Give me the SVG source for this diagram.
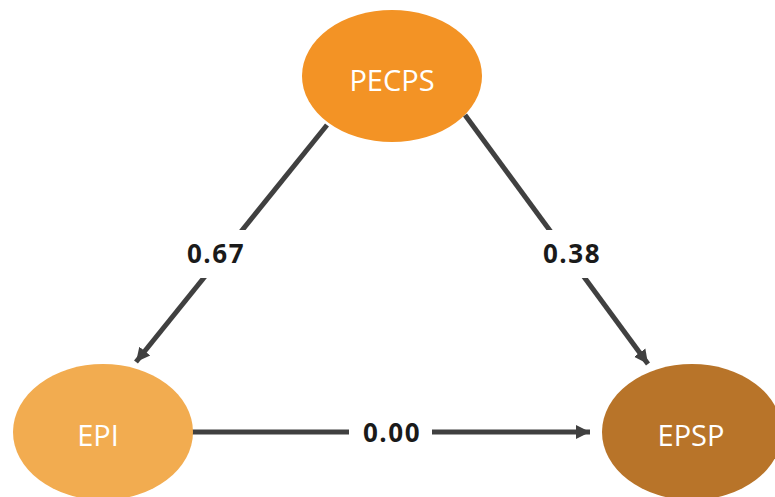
<svg xmlns="http://www.w3.org/2000/svg" width="775" height="497" viewBox="0 0 775 497">
<defs>
<marker id="arr" markerUnits="userSpaceOnUse" markerWidth="16" markerHeight="16" viewBox="0 0 16 16" refX="14" refY="8" orient="auto">
<path d="M0,1 L14,8 L0,15 Z" fill="#404040"/>
</marker>
<style>
.edge{stroke:#404040;stroke-width:5;fill:none}
.lbl{font-family:"Open Sans","Noto Sans",sans-serif;font-weight:bold;font-size:26px;letter-spacing:1.5px;fill:#1a1a1a;text-anchor:middle}
.nt{font-family:"Open Sans","Noto Sans",sans-serif;font-size:29px;fill:#ffffff;text-anchor:middle}
.bg{fill:#ffffff}
</style>
</defs>
<rect width="775" height="497" fill="#ffffff"/>
<g id="connectors">
<line class="edge" x1="327" y1="125" x2="136" y2="362" marker-end="url(#arr)"/>
<line class="edge" x1="465" y1="115" x2="648" y2="364" marker-end="url(#arr)"/>
<line class="edge" x1="192" y1="432" x2="590" y2="432" marker-end="url(#arr)"/>
<rect class="bg" x="180" y="230" width="72" height="48"/>
<text class="lbl" x="216" y="263">0.67</text>
<rect class="bg" x="536" y="230" width="72" height="48"/>
<text class="lbl" x="572" y="263">0.38</text>
<rect class="bg" x="349" y="418" width="83" height="28"/>
<text class="lbl" x="392" y="442">0.00</text>
</g>
<g id="node-pecps">
<ellipse cx="392" cy="76" rx="90" ry="66" fill="#F39325"/>
<text class="nt" x="392" y="91">PECPS</text>
</g>
<g id="node-epi">
<ellipse cx="103" cy="432" rx="90" ry="68" fill="#F2AC50"/>
<text class="nt" x="98" y="446">EPI</text>
</g>
<g id="node-epsp">
<ellipse cx="692" cy="432" rx="90" ry="68" fill="#B87429"/>
<text class="nt" x="691" y="446">EPSP</text>
</g>
</svg>
